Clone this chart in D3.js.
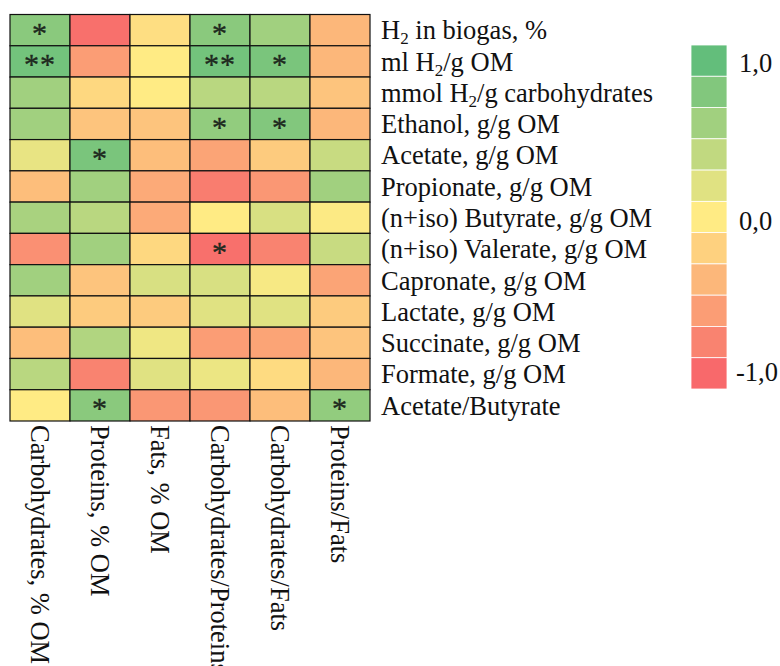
<!DOCTYPE html>
<html><head><meta charset="utf-8">
<script src="https://cdn.jsdelivr.net/npm/d3@7"></script>
<style>body{margin:0;background:#fff}svg{display:block}</style>
</head><body>
<script>
const columns = ["Carbohydrates, % OM","Proteins, % OM","Fats, % OM","Carbohydrates/Proteins","Carbohydrates/Fats","Proteins/Fats"];
const rows = ["H2 in biogas, %","ml H2/g OM","mmol H2/g carbohydrates","Ethanol, g/g OM","Acetate, g/g OM","Propionate, g/g OM","(n+iso) Butyrate, g/g OM","(n+iso) Valerate, g/g OM","Capronate, g/g OM","Lactate, g/g OM","Succinate, g/g OM","Formate, g/g OM","Acetate/Butyrate"];
const values = [
  [0.75,-0.95,-0.10, 0.75, 0.60,-0.40],
  [0.90,-0.60, 0.00, 0.90, 0.85,-0.40],
  [0.60,-0.15, 0.00, 0.45, 0.45,-0.30],
  [0.60,-0.30,-0.30, 0.70, 0.80,-0.40],
  [0.15, 0.85,-0.35,-0.55,-0.25, 0.35],
  [-0.35,0.60,-0.50,-0.85,-0.65, 0.60],
  [0.55, 0.45,-0.50, 0.00, 0.25, 0.02],
  [-0.70,0.60,-0.15,-0.95,-0.80, 0.35],
  [0.60,-0.30, 0.25, 0.25, 0.05,-0.55],
  [0.20,-0.25,-0.25, 0.20, 0.20,-0.25],
  [-0.35,0.50, 0.10,-0.60,-0.55,-0.30],
  [0.45,-0.80, 0.20, 0.12,-0.12,-0.40],
  [0.00, 0.75,-0.65,-0.65,-0.35, 0.70]
];
const stars = [
  ["*","","","*","",""],
  ["**","","","**","*",""],
  ["","","","","",""],
  ["","","","*","*",""],
  ["","*","","","",""],
  ["","","","","",""],
  ["","","","","",""],
  ["","","","*","",""],
  ["","","","","",""],
  ["","","","","",""],
  ["","","","","",""],
  ["","","","","",""],
  ["","*","","","","*"]
];
const legendSteps = [1.0,0.8,0.6,0.4,0.2,0.0,-0.2,-0.4,-0.6,-0.8,-1.0];
const legendTicks = [1.0,0.0,-1.0];
const legendTickLabels = ["1,0","0,0","-1,0"];

const W=780,H=666;
const svg=d3.select("body").append("svg").attr("width",W).attr("height",H);
const FONT="'Liberation Serif','Times New Roman',serif";
const FS=26.5;

const color=d3.scaleLinear().domain([-1,0,1]).range(["#F8696B","#FFEB84","#63BE7B"]);
const x=d3.scaleBand().domain(d3.range(columns.length)).range([10,370]);
const y=d3.scaleBand().domain(d3.range(rows.length)).range([14.5,421]);

const cells=[];
values.forEach((r,i)=>r.forEach((v,j)=>cells.push({i,j,v,s:stars[i][j]})));

svg.append("g").selectAll("rect").data(cells).join("rect")
  .attr("x",d=>x(d.j)).attr("y",d=>y(d.i))
  .attr("width",x.bandwidth()).attr("height",y.bandwidth())
  .attr("fill",d=>color(d.v)).attr("stroke","#111").attr("stroke-width",1.2);

svg.append("g").selectAll("text").data(cells.filter(d=>d.s)).join("text")
  .attr("x",d=>x(d.j)+x.bandwidth()/2).attr("y",d=>y(d.i)+y.bandwidth()/2+13)
  .attr("text-anchor","middle").attr("font-family",FONT).attr("font-size",30)
  .attr("letter-spacing",1)
  .attr("fill","#1e2a1e").attr("stroke","#1e2a1e").attr("stroke-width",0.4).text(d=>d.s);

// row labels
const rl=svg.append("g").selectAll("text").data(rows).join("text")
  .attr("x",381).attr("y",(d,i)=>y(i)+y.bandwidth()/2)
  .attr("dy","0.35em").attr("font-family",FONT).attr("font-size",FS).attr("fill","#111");
rl.each(function(d){
  const t=d3.select(this);
  const parts=d.split("H2");
  parts.forEach((p,k)=>{
    if(k>0){
      t.append("tspan").text("H");
      t.append("tspan").attr("font-size",17).attr("dy",5).text("2");
      t.append("tspan").attr("dy",-5).text(p);
    } else t.append("tspan").text(p);
  });
});

// column labels
svg.append("g").selectAll("text").data(columns).join("text")
  .attr("transform",(d,j)=>`translate(${x(j)+x.bandwidth()/2},425) rotate(90)`)
  .attr("dy","0.35em").attr("font-family",FONT).attr("font-size",FS).attr("fill","#111")
  .text(d=>d);

// legend
const ly=d3.scaleBand().domain(legendSteps).range([45,389]);
svg.append("g").selectAll("rect").data(legendSteps).join("rect")
  .attr("x",691).attr("y",d=>ly(d)).attr("width",36).attr("height",ly.bandwidth())
  .attr("fill",d=>color(d)).attr("stroke","#fff").attr("stroke-width",0.8);
const lt=d3.scaleLinear().domain([1,-1]).range([ly(1)+ly.bandwidth()/2+2,ly(-1)+ly.bandwidth()/2-2]);
svg.append("g").selectAll("text").data(legendTicks).join("text")
  .attr("x",(d)=>d<0?736:739).attr("y",d=>lt(d)+(d===0?4:0)).attr("dy","0.35em")
  .attr("font-family",FONT).attr("font-size",FS).attr("fill","#111")
  .text((d,i)=>legendTickLabels[i]);
</script>
</body></html>
